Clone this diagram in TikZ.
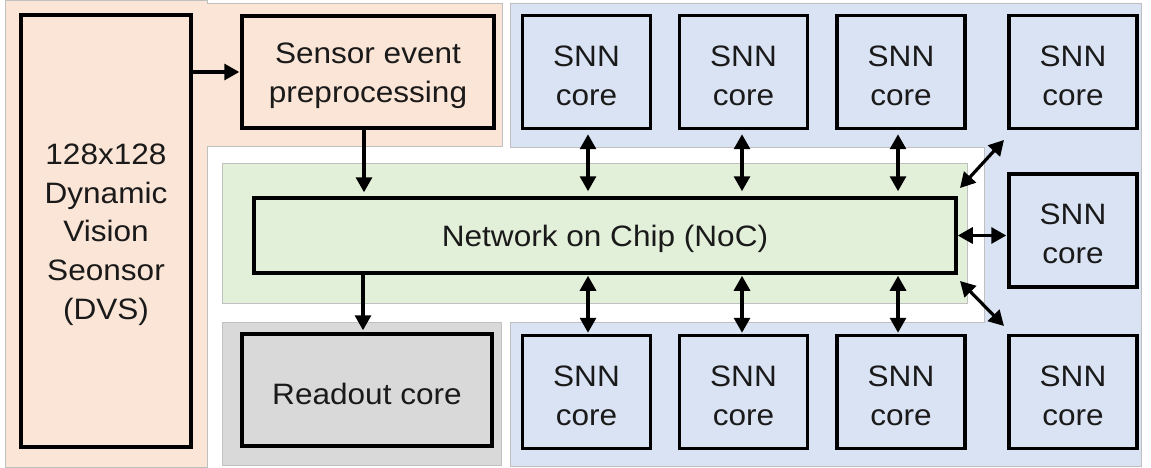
\documentclass[tikz,border=0pt]{standalone}
\usepackage{fontspec}
\setmainfont[FakeStretch=1.07]{Liberation Sans}
\usetikzlibrary{arrows.meta,calc}
\definecolor{peach}{HTML}{FBE5D6}
\definecolor{bluebg}{HTML}{DAE3F3}
\definecolor{greenbg}{HTML}{E2F0D9}
\definecolor{graybg}{HTML}{D9D9D9}
\definecolor{edgegray}{HTML}{C0C0C0}
\definecolor{ink}{HTML}{1A1A1A}
\begin{document}
\begin{tikzpicture}[x=1pt,y=-1pt,
  region/.style={draw=edgegray,line width=0.8pt},
  lbl/.style={align=center,inner sep=0pt,yshift=-3.5pt,
    font=\fontsize{29.5}{38.7}\selectfont,text=ink},
  blk/.style={draw=black,line width=3.5pt,inner sep=0pt},
  snn/.style={blk,minimum width=128pt,minimum height=113pt,
    label={[lbl]center:{SNN\\core}}},
  link/.style={line width=3.2pt,-{Triangle[length=15pt,width=16pt]}},
  blink/.style={line width=3.2pt,{Triangle[length=15pt,width=16pt]}-{Triangle[length=15pt,width=16pt]}}]
\useasboundingbox (0,0) rectangle (1151,468);
\fill[white] (0,0) rectangle (1151,468);
% background regions
\path[region,fill=peach] (5,0) -- (207,0) -- (207,3) -- (502,3) -- (502,146)
  -- (207,146) -- (207,467) -- (5,467) -- cycle;
\path[region,fill=bluebg] (510,3) -- (1141,3) -- (1141,466) -- (510,466)
  -- (510,322) -- (984,322) -- (984,147) -- (510,147) -- cycle;
\path[region,fill=greenbg] (222,163) rectangle (967,303);
\path[region,fill=graybg] (222,322) rectangle (501,465);
% blocks
\node[blk,minimum width=170pt,minimum height=432pt,
  label={[lbl]center:{128x128\\Dynamic\\Vision\\Seonsor\\(DVS)}}] (dvs) at (106,231) {};
\node[blk,minimum width=252pt,minimum height=112pt,
  label={[lbl]center:{Sensor event\\preprocessing}}] (pre) at (368,72) {};
\node[blk,minimum width=702pt,minimum height=75pt,
  label={[lbl]center:{Network on Chip (NoC)}}] (noc) at (605,235.5) {};
\node[blk,minimum width=250pt,minimum height=112pt,
  label={[lbl]center:{Readout core}}] (ro) at (367,390) {};
\node[snn] (t1) at (586.5,72) {};
\node[snn] (t2) at (743.5,72) {};
\node[snn] (t3) at (901,72) {};
\node[snn] (t4) at (1073,72) {};
\node[snn] (r1) at (1073,230.5) {};
\node[snn] (b1) at (586.5,392) {};
\node[snn] (b2) at (743.5,392) {};
\node[snn] (b3) at (901,392) {};
\node[snn] (b4) at (1073,392) {};
% connectors
\draw[link,shorten >=1pt] (dvs.east |- pre.west) -- (pre.west);
\draw[link,shorten >=4pt] (pre.south -| 364,0) -- (noc.north -| 364,0);
\draw[link,shorten >=2pt] (noc.south -| 363,0) -- (ro.north -| 363,0);
\foreach \s/\x in {1/588,2/742,3/898}{
  \draw[blink,shorten <=4pt,shorten >=5pt] (t\s.south -| \x,0) -- (noc.north -| \x,0);
  \draw[blink,shorten <=1pt,shorten >=1pt] (noc.south -| \x,0) -- (b\s.north -| \x,0);
}
\draw[blink,shorten >=1pt] (noc.east) -- (noc.east -| r1.west);
\coordinate (du1) at (960,188);
\coordinate (du2) at (1004,140);
\coordinate (dl1) at (960,281);
\coordinate (dl2) at (1004,326);
\draw[blink] (du1) -- (du2);
\draw[blink] (dl1) -- (dl2);
\end{tikzpicture}
\end{document}
